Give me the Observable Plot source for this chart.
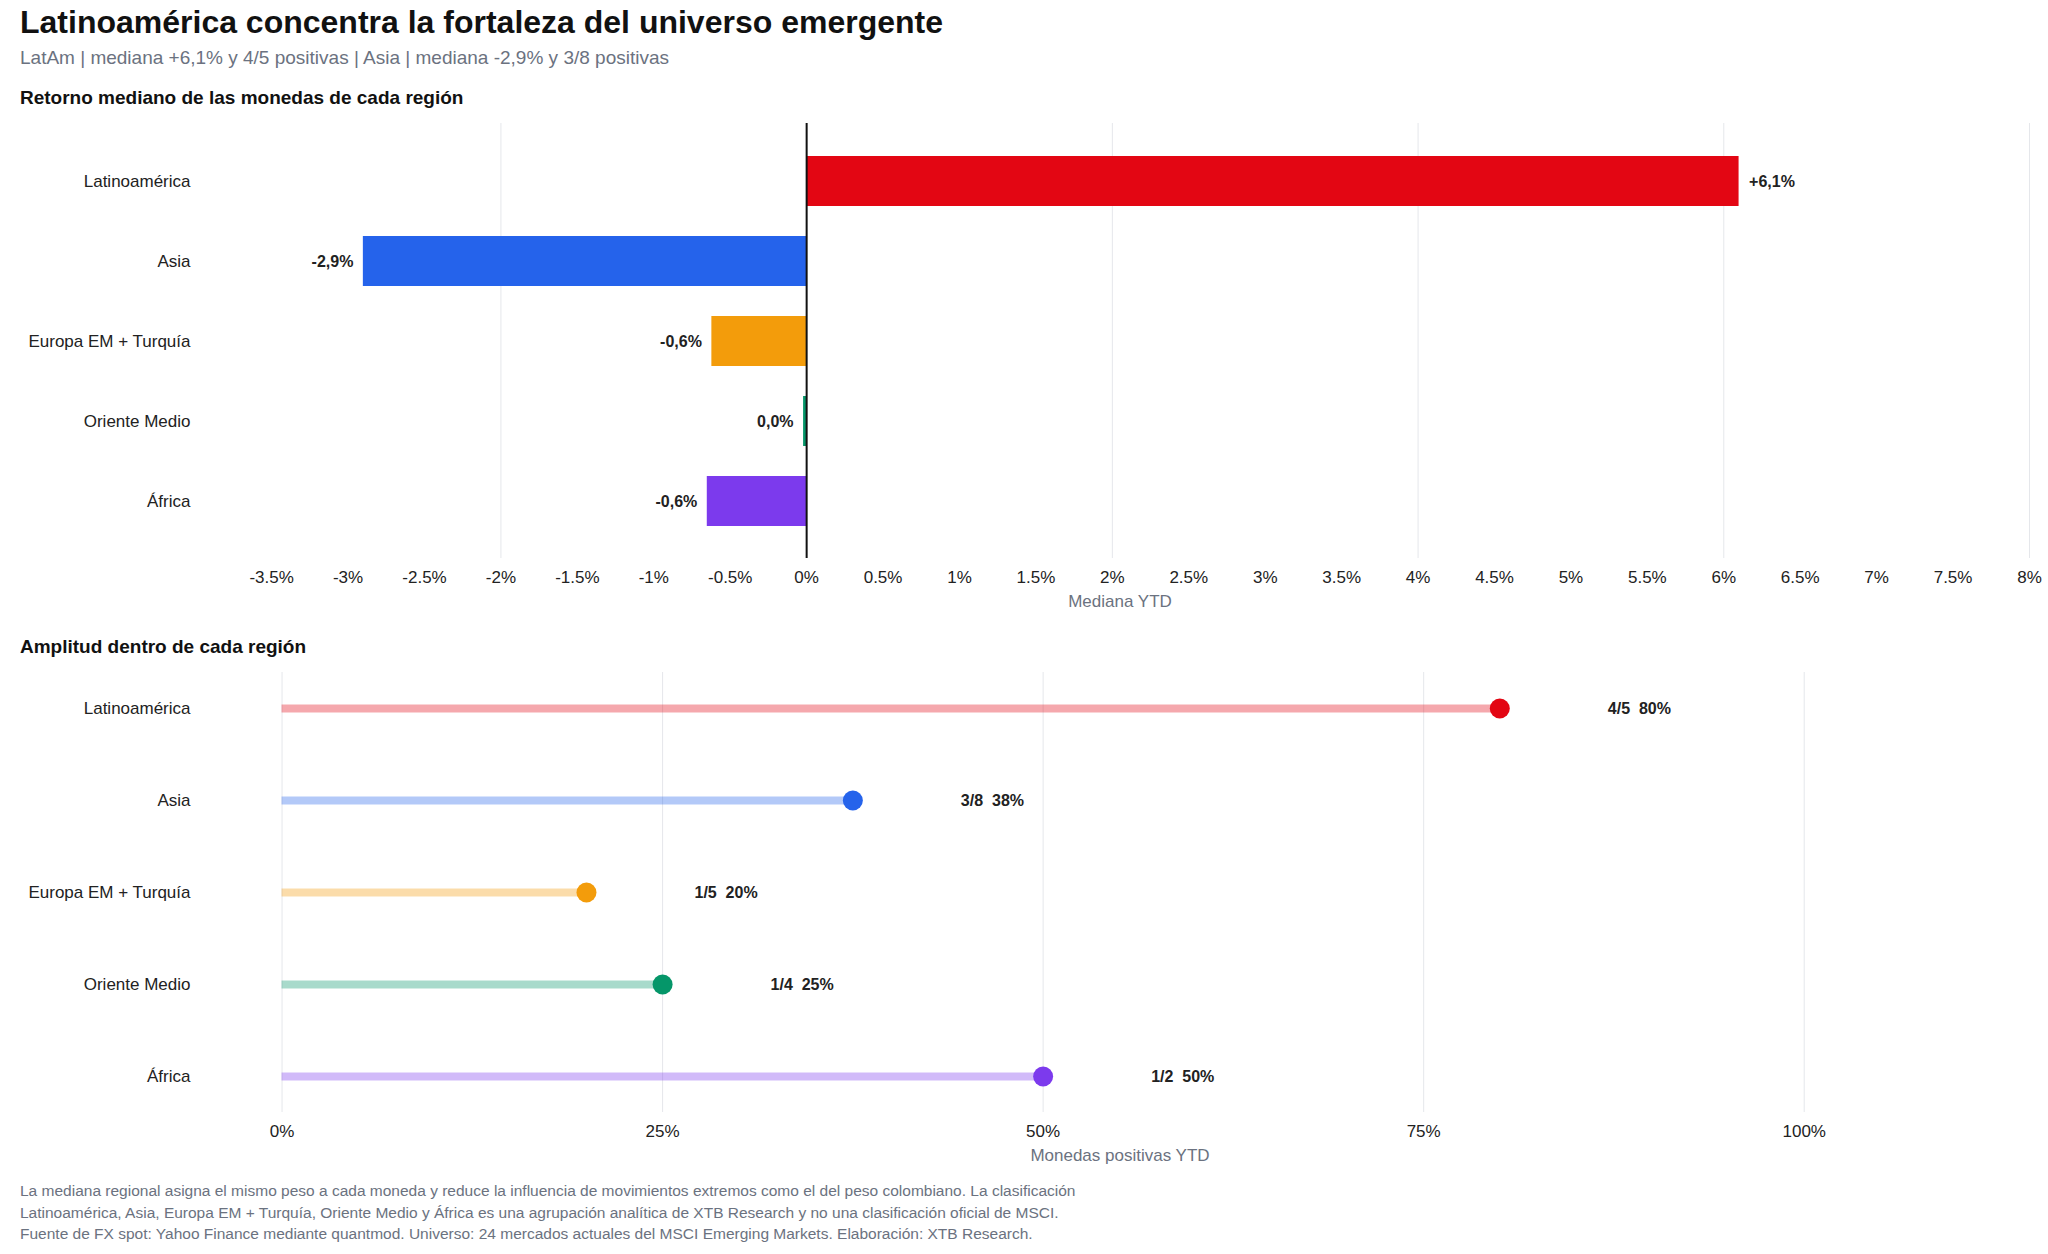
<!DOCTYPE html>
<html><head><meta charset="utf-8">
<script src="https://cdn.jsdelivr.net/npm/d3@7"></script>
<script src="https://cdn.jsdelivr.net/npm/@observablehq/plot@0.6"></script>
<style>
body{margin:0;font-family:"Liberation Sans",Arial,sans-serif;background:#fff;color:#111}
.t{margin:4px 20px 0;font-size:32px;font-weight:bold}
.s{margin:6px 20px 0;font-size:19px;color:#6b7280}
.h{margin:18px 20px 4px;font-size:19px;font-weight:bold}
.f{margin:8px 20px;font-size:15.5px;color:#6b7280;line-height:1.4}
svg{display:block}
</style></head><body>
<div class="t">Latinoamérica concentra la fortaleza del universo emergente</div>
<div class="s">LatAm | mediana +6,1% y 4/5 positivas | Asia | mediana -2,9% y 3/8 positivas</div>
<div class="h">Retorno mediano de las monedas de cada región</div>
<div id="c1"></div>
<div class="h">Amplitud dentro de cada región</div>
<div id="c2"></div>
<div class="f">La mediana regional asigna el mismo peso a cada moneda y reduce la influencia de movimientos extremos como el del peso colombiano. La clasificación<br>Latinoamérica, Asia, Europa EM + Turquía, Oriente Medio y África es una agrupación analítica de XTB Research y no una clasificación oficial de MSCI.<br>Fuente de FX spot: Yahoo Finance mediante quantmod. Universo: 24 mercados actuales del MSCI Emerging Markets. Elaboración: XTB Research.</div>
<script>
const regions = ["Latinoamérica","Asia","Europa EM + Turquía","Oriente Medio","África"];
const medians = [6.1,-2.9,-0.62,-0.02,-0.65];
const medianLabels = ["+6,1%","-2,9%","-0,6%","0,0%","-0,6%"];
const positives = [4,3,1,1,1];
const totals = [5,8,5,4,2];
const shares = [80,37.5,20,25,50];
const shareLabels = ["4/5  80%","3/8  38%","1/5  20%","1/4  25%","1/2  50%"];
const colors = ["#e30613","#2563eb","#f39c0b","#059669","#7c3aed"];

const d1 = regions.map((r,i)=>({r,v:medians[i],lab:medianLabels[i],c:colors[i]}));
const d2 = regions.map((r,i)=>({r,v:shares[i],lab:shareLabels[i],c:colors[i]}));
const common = {width:2048,marginLeft:210,marginRight:19,style:{fontFamily:"Liberation Sans, Arial, sans-serif",fontSize:"17px",color:"#222"}};
const yopt = {domain:regions,label:null,padding:0.38};

document.getElementById("c1").append(Plot.plot({...common,height:505,marginTop:10,marginBottom:60,
  x:{domain:[-3.9,8],ticks:[-2,0,2,4,6,8],tickFormat:d=>d+"%",label:"Mediana YTD",labelAnchor:"center",labelArrow:"none",labelOffset:48},
  y:yopt,
  marks:[
    Plot.gridX([-2,0,2,4,6,8],{stroke:"#e5e7eb",strokeOpacity:1}),
    Plot.barX(d1,{x:"v",y:"r",fill:"c"}),
    Plot.ruleX([0],{stroke:"#111",strokeWidth:2}),
    Plot.text(d1.filter(d=>d.v>0),{x:"v",y:"r",text:"lab",textAnchor:"start",dx:10,fontWeight:"bold",fontSize:16}),
    Plot.text(d1.filter(d=>d.v<=0),{x:"v",y:"r",text:"lab",textAnchor:"end",dx:-10,fontWeight:"bold",fontSize:16}),
    Plot.axisY({tickSize:0,tickPadding:20,label:null}),
    Plot.axisX({tickSize:0,tickPadding:12,tickFormat:d=>d+"%",label:"Mediana YTD",labelAnchor:"center",labelArrow:"none",labelOffset:48,fill:"#222"})
  ]}));

document.getElementById("c2").append(Plot.plot({...common,height:510,marginTop:10,marginBottom:60,
  x:{domain:[-4.7,114.8],ticks:[0,25,50,75,100]},
  y:yopt,
  marks:[
    Plot.gridX([0,25,50,75,100],{stroke:"#e5e7eb",strokeOpacity:1}),
    Plot.ruleY(d2,{x1:0,x2:"v",y:"r",stroke:"c",strokeOpacity:0.35,strokeWidth:8}),
    Plot.dot(d2,{x:"v",y:"r",fill:"c",r:10}),
    Plot.text(d2,{x:"v",y:"r",text:"lab",textAnchor:"start",dx:108,fontWeight:"bold",fontSize:16}),
    Plot.axisY({tickSize:0,tickPadding:20,label:null}),
    Plot.axisX({ticks:[0,25,50,75,100],tickSize:0,tickPadding:12,tickFormat:d=>d+"%",label:"Monedas positivas YTD",labelAnchor:"center",labelArrow:"none",labelOffset:48})
  ]}));
d3.selectAll("g[aria-label='x-axis label'] text").attr("fill","#6b7280");
</script></body></html>
